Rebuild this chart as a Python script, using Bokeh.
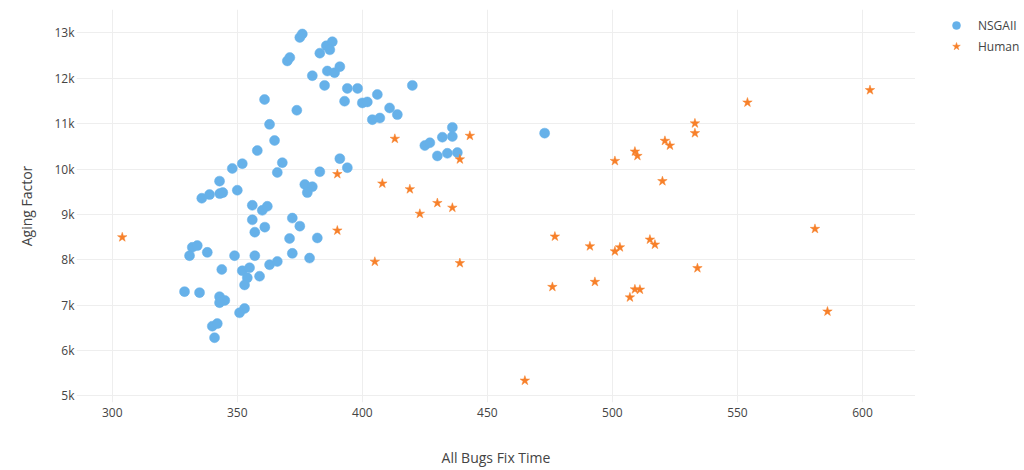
from bokeh.plotting import figure
from bokeh.layouts import row
from bokeh.models import ColumnDataSource, FixedTicker, Legend, LegendItem, Range1d
from bokeh.embed import file_html
from bokeh.resources import INLINE

# NSGAII series
nsga_x = [375.0, 376.0, 385.6, 388.0, 387.0, 383.0, 370.0, 371.0, 386.0, 388.9, 391.0, 380.0,
          384.9, 394.0, 398.1, 420.0, 360.9, 392.9, 400.0, 402.0, 406.0, 373.8, 410.9, 414.0,
          404.0, 407.0, 362.9, 436.0, 436.0, 432.0, 364.9, 425.0, 427.0, 358.0, 430.0, 434.0,
          438.0, 348.0, 352.0, 368.0, 366.0, 391.0, 394.0, 383.0, 342.9, 377.0, 380.0, 378.0,
          350.0, 335.8, 338.9, 343.0, 344.2, 472.9, 356.0, 360.0, 362.0, 356.0, 372.0, 375.0,
          361.0, 357.0, 370.9, 382.0, 332.0, 334.0, 330.9, 338.0, 348.9, 357.0, 372.0, 378.9,
          343.8, 352.0, 354.9, 362.9, 366.0, 354.0, 358.9, 352.9, 328.9, 334.9, 342.9, 345.0,
          342.9, 352.9, 350.9, 340.0, 342.0, 340.9]
nsga_y = [12902, 12978, 12718, 12807, 12629, 12555, 12384, 12458, 12162, 12124, 12258, 12058,
          11844, 11778, 11778, 11844, 11533, 11496, 11458, 11480, 11644, 11296, 11347, 11200,
          11089, 11125, 10985, 10918, 10718, 10702, 10629, 10518, 10580, 10407, 10289, 10347,
          10362, 10013, 10118, 10140, 9925, 10229, 10029, 9940, 9733, 9658, 9610, 9480,
          9533, 9356, 9436, 9458, 9480, 10791, 9200, 9089, 9178, 8880, 8918, 8740,
          8718, 8607, 8467, 8480, 8273, 8311, 8089, 8162, 8089, 8089, 8140, 8036,
          7785, 7756, 7822, 7889, 7962, 7600, 7636, 7444, 7296, 7274, 7185, 7103,
          7052, 6925, 6829, 6534, 6591, 6280]

# Human series
human_x = [304.0, 390.0, 390.0, 405.0, 408.0, 413.0, 419.0, 423.0, 430.0, 436.0, 439.0, 439.0,
           443.0, 465.0, 476.0, 477.0, 491.0, 493.0, 501.0, 501.0, 503.0, 507.0, 509.0, 509.0,
           510.0, 511.0, 515.0, 517.0, 520.0, 521.0, 523.0, 533.0, 533.0, 534.0, 554.0, 581.0,
           586.0, 603.0]
human_y = [8496, 9889, 8644, 7956, 9680, 10667, 9555, 9014, 9251, 9147, 10213, 7925,
           10733, 5334, 7400, 8511, 8296, 7511, 10178, 8185, 8274, 7169, 10385, 7347,
           10289, 7340, 8444, 8333, 9733, 10622, 10518, 11007, 10791, 7814, 11467, 8680,
           6858, 11740]

series_names = ["NSGAII", "Human"]
x_ticks = [300, 350, 400, 450, 500, 550, 600]
y_ticks = [5000, 6000, 7000, 8000, 9000, 10000, 11000, 12000, 13000]
y_labels = ["5k", "6k", "7k", "8k", "9k", "10k", "11k", "12k", "13k"]

FONT = "Open Sans"
TXT = "#444444"
BLUE = "#66B1E9"
ORANGE = "#F7802A"
H = 469
X_RANGE = (285.7, 621.2)
Y_RANGE = (4851, 13518)

p = figure(width=915, height=H, output_backend="svg", toolbar_location=None,
           x_range=Range1d(*X_RANGE), y_range=Range1d(*Y_RANGE),
           min_border_left=76, min_border_right=0, min_border_top=9, min_border_bottom=66)
p.outline_line_color = None
p.background_fill_color = "white"

src_n = ColumnDataSource(dict(x=nsga_x, y=nsga_y))
src_h = ColumnDataSource(dict(x=human_x, y=human_y))
p.scatter("x", "y", source=src_n, marker="circle", size=10,
          fill_color=BLUE, line_color=BLUE, line_width=0.5)
p.scatter("x", "y", source=src_h, marker="star", size=10,
          fill_color=ORANGE, line_color=ORANGE, line_width=0.5)

for ax in (p.xaxis[0], p.yaxis[0]):
    ax.axis_line_color = None
    ax.major_tick_line_color = None
    ax.minor_tick_line_color = None
    ax.major_tick_out = 0
    ax.major_tick_in = 0
    ax.major_label_text_font = FONT
    ax.major_label_text_font_size = "12px"
    ax.major_label_text_color = TXT
    ax.axis_label_text_font = FONT
    ax.axis_label_text_font_size = "14px"
    ax.axis_label_text_color = TXT
    ax.axis_label_text_font_style = "normal"

p.xaxis.ticker = FixedTicker(ticks=x_ticks)
p.yaxis.ticker = FixedTicker(ticks=y_ticks)
p.yaxis.major_label_overrides = {t: l for t, l in zip(y_ticks, y_labels)}
p.xaxis.major_label_standoff = 5
p.yaxis.major_label_standoff = 2
p.xaxis.axis_label = "All Bugs Fix Time"
p.yaxis.axis_label = "Aging Factor"
p.xaxis.axis_label_standoff = 28
p.yaxis.axis_label_standoff = 15

p.xgrid.grid_line_color = "#eeeeee"
p.ygrid.grid_line_color = "#eeeeee"
p.xgrid.ticker = FixedTicker(ticks=x_ticks)
p.ygrid.ticker = FixedTicker(ticks=y_ticks)

# legend panel: a small companion figure whose (off-view) renderers reuse the same
# sources, so the legend swatches are drawn with the series' own styles
lg = figure(width=109, height=H, output_backend="svg", toolbar_location=None,
            x_range=Range1d(0, 1), y_range=Range1d(0, 1),
            min_border_left=25, min_border_right=0, min_border_top=9, min_border_bottom=66)
lg.axis.visible = False
lg.grid.visible = False
lg.outline_line_color = None
l1 = lg.scatter("x", "y", source=src_n, marker="circle", size=10,
                fill_color=BLUE, line_color=BLUE, line_width=0.5)
l2 = lg.scatter("x", "y", source=src_h, marker="star", size=10,
                fill_color=ORANGE, line_color=ORANGE, line_width=0.5)

legend = Legend(items=[LegendItem(label=series_names[0], renderers=[l1]),
                       LegendItem(label=series_names[1], renderers=[l2])],
                location="top_left", margin=6, padding=0, spacing=1,
                glyph_width=20, glyph_height=20, label_standoff=12,
                label_text_font=FONT, label_text_font_size="12px", label_text_color=TXT,
                background_fill_alpha=0, border_line_color=None)
lg.add_layout(legend, "center")

layout = row(p, lg, spacing=0)
open("out.html", "w").write(file_html(layout, INLINE))
